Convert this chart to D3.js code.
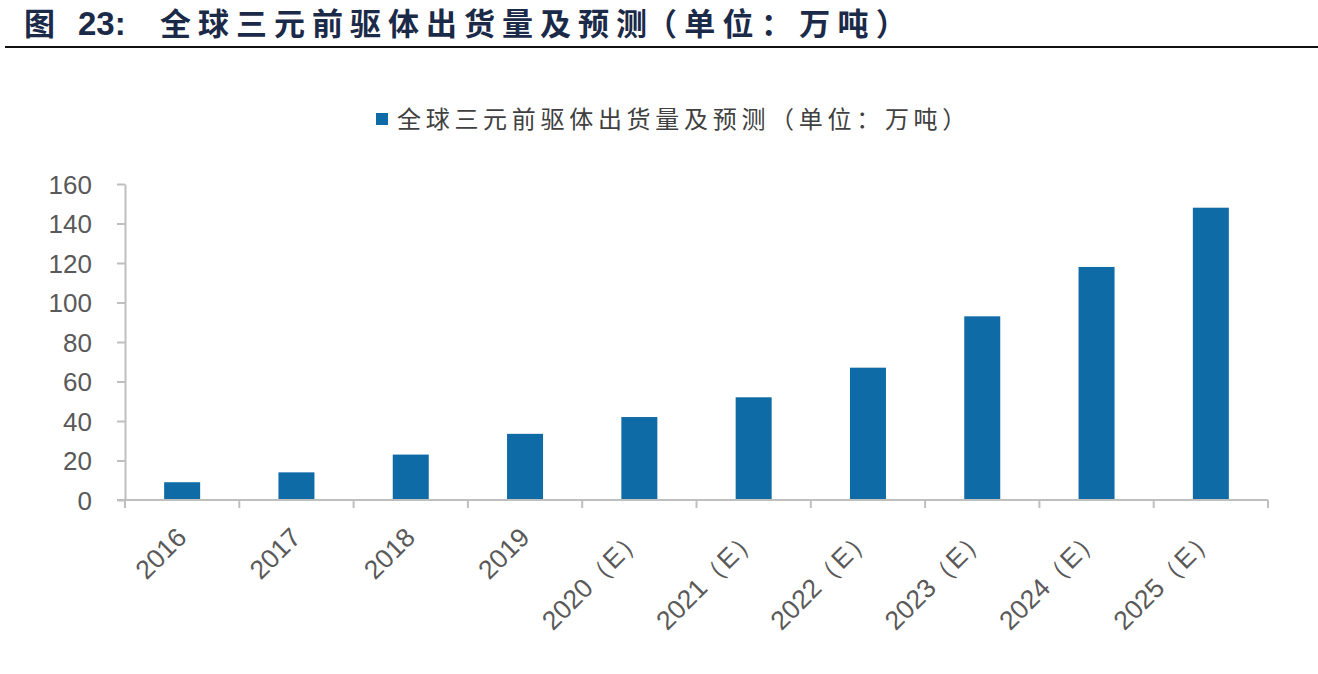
<!DOCTYPE html>
<html><head><meta charset="utf-8">
<script src="https://cdn.jsdelivr.net/npm/d3@7"></script>
<style>body{margin:0;background:#fff;} svg{display:block;}</style>
</head><body>
<svg id="chart" width="1318" height="674"></svg>
<script>
const categories = ["2016","2017","2018","2019","2020（E）","2021（E）","2022（E）","2023（E）","2024（E）","2025（E）"];
const values = [9, 14, 23, 33.5, 42, 52, 67, 93, 118, 148];
const yTicks = [0,20,40,60,80,100,120,140,160];
const titleFig = "图";
const titleNum = "23:";
const titleMain = "全球三元前驱体出货量及预测";
const titleUnit = "（单位：万吨）";
const seriesName = "全球三元前驱体出货量及预测（单位：万吨）";

(function(){
const svg = d3.select("#chart");
const mLeft = 125, mRight = 1268, mTop = 184, mBottom = 500;
const axisColor = "#bfbfbf", barColor = "#0F6BA6", textColor = "#595959";
const cjk = "'Noto Sans CJK SC', sans-serif";
const latin = "'Liberation Sans', Arial, sans-serif";
const titleColor = "#1B2A48";

// title
const t = svg.append("text").attr("y", 35).attr("fill", titleColor).attr("font-weight", "bold");
t.append("tspan").attr("x", 24).attr("font-family", cjk).attr("font-size", 31).text(titleFig);
t.append("tspan").attr("x", 78).attr("font-family", latin).attr("font-size", 33).text(titleNum);
t.append("tspan").attr("x", 160).attr("font-family", cjk).attr("font-size", 31).attr("letter-spacing", 7).text(titleMain);
t.append("tspan").attr("x", 646).attr("font-family", cjk).attr("font-size", 31).attr("letter-spacing", 7.3).text(titleUnit);
svg.append("line").attr("x1", 5).attr("x2", 1318).attr("y1", 47).attr("y2", 47)
  .attr("stroke", "#111").attr("stroke-width", 2);

// legend
svg.append("rect").attr("x", 376).attr("y", 113).attr("width", 12).attr("height", 12).attr("fill", barColor);
svg.append("text").attr("x", 397).attr("y", 128)
  .attr("font-family", cjk).attr("font-size", 24)
  .attr("letter-spacing", 4.7).attr("fill", "#404040").text(seriesName);

const x = d3.scaleBand().domain(categories).range([mLeft, mRight]).paddingInner(0.685).paddingOuter(0.3425);
const y = d3.scaleLinear().domain([0,160]).range([mBottom, mTop]);

// bars
svg.append("g").selectAll("rect").data(values).join("rect")
  .attr("x", (d,i) => x(categories[i])).attr("width", x.bandwidth())
  .attr("y", d => y(d)).attr("height", d => y(0) - y(d))
  .attr("fill", barColor);

// y axis
const yAxis = d3.axisLeft(y).tickValues(yTicks).tickSize(8).tickPadding(8).tickSizeOuter(0);
const gy = svg.append("g").attr("transform", `translate(${mLeft},0)`).call(yAxis);
gy.select(".domain").attr("stroke", axisColor).attr("stroke-width", 2);
gy.selectAll(".tick line").attr("stroke", axisColor).attr("stroke-width", 2);
gy.selectAll(".tick text").attr("font-family", latin)
  .attr("font-size", 26).attr("fill", textColor).attr("x", -33).attr("dy", "0.35em");

// x axis line and boundary ticks
const xb = d3.scaleLinear().domain([0, categories.length]).range([mLeft, mRight]);
const gx = svg.append("g");
gx.append("line").attr("x1", mLeft - 8).attr("x2", mRight).attr("y1", mBottom).attr("y2", mBottom)
  .attr("stroke", axisColor).attr("stroke-width", 2);
gx.selectAll("line.tk").data(d3.range(categories.length + 1)).join("line").attr("class","tk")
  .attr("x1", d => xb(d)).attr("x2", d => xb(d)).attr("y1", mBottom).attr("y2", mBottom + 8)
  .attr("stroke", axisColor).attr("stroke-width", 2);

// x labels rotated
gx.selectAll("text").data(categories).join("text")
  .attr("transform", d => `translate(${x(d) + x.bandwidth()/2 + 6},${mBottom + 39}) rotate(-45)`)
  .attr("text-anchor", "end")
  .attr("font-family", latin).attr("font-size", 26.5)
  .attr("fill", textColor).text(d => d);
})();
</script>
</body></html>
